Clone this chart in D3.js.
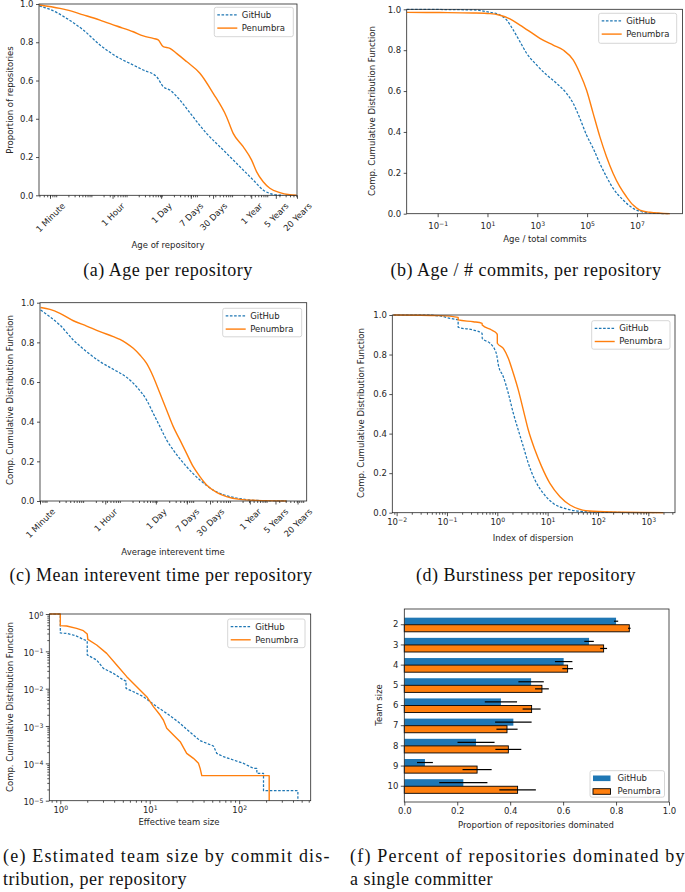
<!DOCTYPE html>
<html><head><meta charset="utf-8">
<script src="https://cdn.jsdelivr.net/npm/d3@7"></script>
<style>body{margin:0;background:#fff}svg{display:block}</style>
</head><body>
<svg id="chart" width="685" height="892"></svg>
<script>
// ---------------- DATA ----------------
const propTicks = [0, 0.2, 0.4, 0.6, 0.8, 1.0];
const timeTicks = [60, 3600, 86400, 604800, 2592000, 31536000, 157680000, 630720000];
const timeTickLabels = ["1 Minute", "1 Hour", "1 Day", "7 Days", "30 Days", "1 Year", "5 Years", "20 Years"];
const seriesNames = ["GitHub", "Penumbra"];

// (a) age of repository (seconds) vs proportion of repositories
const ageGithubX = [29.8, 59.9, 178, 530, 1578, 4694, 13960, 26850, 64270, 99300, 153800, 295800, 634000, 1.69e6, 5.03e6, 1.496e7, 3.58e7, 6.89e7, 1.325e8, 2.55e8];
const ageGithubY = [0.99, 0.972, 0.925, 0.864, 0.786, 0.725, 0.681, 0.655, 0.620, 0.568, 0.55, 0.498, 0.42, 0.324, 0.237, 0.15, 0.08, 0.028, 0.005, 0];
const agePenumbraX = [29.8, 115, 178, 530, 1578, 4694, 13960, 26850, 51640, 71620, 99300, 153800, 237700, 457000, 1.094e6, 2.618e6, 6.25e6, 9.68e6, 1.862e7, 3.21e7, 4.46e7, 6.89e7, 1.066e8, 2.05e8, 3.94e8, 6.1e8];
const agePenumbraY = [0.995, 0.977, 0.969, 0.943, 0.916, 0.885, 0.855, 0.833, 0.82, 0.812, 0.777, 0.768, 0.742, 0.699, 0.638, 0.533, 0.411, 0.324, 0.254, 0.185, 0.124, 0.071, 0.037, 0.014, 0.003, 0];

// (b) age / total commits CCDF
const commitsGithubX = [0.00571, 2.70, 12.6, 31.6, 58.5, 108, 201, 371, 935, 2355, 5929, 14930, 27620, 51170, 94600, 175000, 324300, 600000, 1.11e6, 2.80e6, 7.05e6, 1.77e7, 6.07e7, 2.08e8];
const commitsGithubY = [1.0, 0.997, 0.985, 0.972, 0.948, 0.899, 0.842, 0.785, 0.728, 0.679, 0.638, 0.589, 0.540, 0.467, 0.385, 0.320, 0.246, 0.181, 0.124, 0.067, 0.026, 0.008, 0.002, 0];
const commitsPenumbraX = [0.00571, 0.124, 2.70, 12.6, 31.6, 79.6, 201, 505, 1271, 4355, 10960, 27620, 51170, 94600, 175000, 324300, 600000, 1.11e6, 2.056e6, 3.80e6, 7.05e6, 1.30e7, 3.28e7, 2.08e8];
const commitsPenumbraY = [0.985, 0.984, 0.982, 0.979, 0.971, 0.953, 0.923, 0.891, 0.858, 0.825, 0.801, 0.752, 0.687, 0.605, 0.491, 0.377, 0.279, 0.197, 0.132, 0.083, 0.042, 0.018, 0.007, 0];

// (c) mean interevent time (seconds) CCDF
const interGithubX = [62.5, 112, 210, 486, 1122, 2588, 5972, 13800, 25820, 48400, 73500, 111700, 169500, 257600, 594300, 1.374e6, 3.17e6, 7.31e6, 1.69e7, 4.81e7, 3.16e8];
const interGithubY = [0.963, 0.929, 0.887, 0.812, 0.753, 0.703, 0.664, 0.624, 0.576, 0.509, 0.442, 0.375, 0.308, 0.257, 0.173, 0.106, 0.055, 0.027, 0.012, 0.003, 0];
const interPenumbraX = [62.5, 112, 210, 486, 1122, 2588, 5972, 9078, 13800, 20950, 31840, 48400, 73500, 111700, 169500, 257600, 391600, 594300, 903600, 1.374e6, 2.085e6, 3.91e6, 7.31e6, 1.69e7, 4.81e7, 3.16e8];
const interPenumbraY = [0.976, 0.966, 0.946, 0.909, 0.882, 0.854, 0.829, 0.815, 0.795, 0.770, 0.736, 0.694, 0.627, 0.543, 0.459, 0.375, 0.308, 0.240, 0.173, 0.123, 0.081, 0.044, 0.022, 0.008, 0.003, 0];

// (d) index of dispersion CCDF
const dispGithubX = [0.0086, 0.0339, 0.0726, 0.1148, 0.1667, 0.1668, 0.333, 0.5, 0.501, 0.715, 0.899, 0.97, 1.05, 1.316, 1.654, 2.08, 2.61, 3.29, 4.13, 5.60, 8.20, 12.97, 23.8, 43.9, 148.6, 1465];
const dispGithubY = [1.0, 1.0, 0.995, 0.983, 0.975, 0.938, 0.924, 0.907, 0.882, 0.857, 0.823, 0.80, 0.747, 0.688, 0.604, 0.503, 0.418, 0.334, 0.250, 0.165, 0.098, 0.047, 0.019, 0.007, 0.002, 0];
const dispPenumbraX = [0.0086, 0.0726, 0.1667, 0.1668, 0.333, 0.5, 0.501, 0.771, 0.97, 1.0, 1.001, 1.316, 1.654, 2.08, 2.61, 3.29, 4.13, 5.60, 7.60, 11.1, 17.6, 27.8, 43.9, 80.7, 318, 1986];
const dispPenumbraY = [1.0, 0.997, 0.988, 0.975, 0.966, 0.958, 0.949, 0.924, 0.907, 0.90, 0.857, 0.831, 0.781, 0.705, 0.621, 0.519, 0.418, 0.317, 0.233, 0.148, 0.081, 0.039, 0.017, 0.007, 0.002, 0];

// (e) effective team size CCDF (log-log)
const teamGithubX = [0.75, 1, 1, 1.2, 1.5, 1.8, 2, 2, 2.55, 3.03, 3.92, 5.07, 5.43, 5.43, 6.56, 8.49, 10.09, 11.97, 15.49, 21.86, 25.9, 30.8, 36.6, 43.5, 51.6, 56.2, 66.8, 86.4, 112, 144.7, 157.7, 157.7, 187.2, 187.2, 453.6, 453.6];
const teamGithubY = [1, 1, 0.31, 0.30, 0.26, 0.21, 0.19, 0.08, 0.0586, 0.035, 0.0257, 0.0171, 0.016, 0.0102, 0.0083, 0.0061, 0.00449, 0.0033, 0.00218, 0.00118, 0.000814, 0.000574, 0.000405, 0.000343, 0.000291, 0.000185, 0.000151, 0.000123, 0.0001, 7.35e-5, 7.35e-5, 5.4e-5, 5.4e-5, 1.85e-5, 1.85e-5, 1e-5];
const teamPenumbraX = [0.75, 1, 1, 1.177, 1.52, 1.81, 2, 2.03, 2.55, 3.30, 4.27, 5.53, 7.15, 9.25, 11.0, 13.05, 14.2, 15.5, 18.4, 21.9, 25.9, 30.8, 35.1, 36.6, 38.2, 216.7, 216.7];
const teamPenumbraY = [1, 1, 0.487, 0.477, 0.413, 0.358, 0.291, 0.21, 0.148, 0.0883, 0.043, 0.021, 0.0113, 0.0061, 0.0033, 0.00197, 0.00145, 0.000866, 0.000574, 0.00038, 0.000185, 0.000136, 0.0001, 7.35e-5, 4.68e-5, 4.68e-5, 1e-5];

// (f) proportion of repositories dominated by a single committer
const teamSizes = [2, 3, 4, 5, 6, 7, 8, 9, 10];
const githubDominated = [0.80, 0.698, 0.602, 0.479, 0.365, 0.412, 0.271, 0.078, 0.223];
const githubDominatedErr = [0.008, 0.018, 0.033, 0.048, 0.061, 0.069, 0.070, 0.030, 0.091];
const penumbraDominated = [0.85, 0.753, 0.617, 0.52, 0.481, 0.388, 0.393, 0.275, 0.428];
const penumbraDominatedErr = [0.005, 0.013, 0.020, 0.026, 0.034, 0.040, 0.049, 0.055, 0.069];

const captions = [
  {id: "a", lines: ["(a) Age per repository"]},
  {id: "b", lines: ["(b) Age / # commits, per repository"]},
  {id: "c", lines: ["(c) Mean interevent time per repository"]},
  {id: "d", lines: ["(d) Burstiness per repository"]},
  {id: "e", lines: ["(e) Estimated team size by commit dis-", "tribution, per repository"]},
  {id: "f", lines: ["(f) Percent of repositories dominated by", "a single committer"]}
];

// ---------------- STYLE ----------------
const FONT = '"DejaVu Sans", sans-serif';
const SERIF = '"Liberation Serif", "DejaVu Serif", serif';
const FS = 8.5;
const INK = "#262626";
const BLUE = "#1f77b4", ORANGE = "#ff7f0e";
const DASH = "2.6,1.6";

const svg = d3.select("#chart");
const defs = svg.append("defs");

function styleAxis(ax) {
  ax.select(".domain").remove();
  ax.selectAll(".tick line").attr("stroke", INK).attr("stroke-width", 0.8);
  ax.selectAll(".tick text").attr("fill", INK).attr("font-size", FS).attr("font-family", FONT);
}
function frame(g, b) {
  g.append("rect").attr("x", b.left).attr("y", b.top)
    .attr("width", b.right - b.left).attr("height", b.bottom - b.top)
    .attr("fill", "none").attr("stroke", INK).attr("stroke-width", 0.8);
}
function clipFor(id, b) {
  defs.append("clipPath").attr("id", id).append("rect")
    .attr("x", b.left).attr("y", b.top - 1).attr("width", b.right - b.left).attr("height", b.bottom - b.top + 2);
  return `url(#${id})`;
}
function logMinors(dom) {
  const out = [];
  const lo = Math.floor(Math.log10(dom[0])), hi = Math.ceil(Math.log10(dom[1]));
  for (let e = lo; e <= hi; e++) for (let k = 2; k <= 9; k++) {
    const v = k * Math.pow(10, e);
    if (v >= dom[0] && v <= dom[1]) out.push(v);
  }
  return out;
}
function decades(dom, step, offset) {
  const out = [];
  const lo = Math.ceil(Math.log10(dom[0])), hi = Math.floor(Math.log10(dom[1]));
  for (let e = lo; e <= hi; e++) if (((e - offset) % step + step) % step === 0) out.push(Math.pow(10, e));
  return out;
}
function expStr(d) {
  const e = Math.round(Math.log10(d));
  return e < 0 ? "\u2212" + (-e) : String(e);
}
function supLabels(ax) {
  ax.selectAll(".tick text").each(function (d) {
    const t = d3.select(this);
    t.text(null);
    t.append("tspan").text("10");
    t.append("tspan").attr("dy", "-0.45em").attr("font-size", "0.72em").text(expStr(d));
  });
}
function drawLine(g, xs, ys, sx, sy, color, dashed, curve) {
  const pts = xs.map((v, i) => [v, ys[i]]);
  const line = d3.line().x(d => sx(d[0])).y(d => sy(d[1])).curve(curve || d3.curveLinear);
  g.append("path").attr("d", line(pts)).attr("fill", "none").attr("stroke", color)
    .attr("stroke-width", dashed ? 1.25 : 1.4)
    .attr("stroke-dasharray", dashed ? DASH : null)
    .attr("stroke-linejoin", "round");
}
function legend(g, x, y, w, h, kind) {
  g.append("rect").attr("x", x).attr("y", y).attr("width", w).attr("height", h).attr("rx", 2)
    .attr("fill", "#fff").attr("fill-opacity", 0.85).attr("stroke", "#cccccc").attr("stroke-width", 0.8);
  seriesNames.forEach((name, i) => {
    const cy = y + 7.6 + i * 13.2;
    const color = i === 0 ? BLUE : ORANGE;
    if (kind === "line") {
      g.append("line").attr("x1", x + 3).attr("x2", x + 23).attr("y1", cy).attr("y2", cy)
        .attr("stroke", color).attr("stroke-width", i === 0 ? 1.25 : 1.4)
        .attr("stroke-dasharray", i === 0 ? DASH : null);
    } else {
      g.append("rect").attr("x", x + 3).attr("y", cy - 2.8).attr("width", 17.5).attr("height", 5.6)
        .attr("fill", color).attr("stroke", i === 0 ? "none" : "#000").attr("stroke-width", 0.9);
    }
    g.append("text").attr("x", x + 27.5).attr("y", cy).attr("dy", "0.35em")
      .attr("font-size", FS).attr("font-family", FONT).attr("fill", INK).text(name);
  });
}
function yLabel(g, x, y, text) {
  g.append("text").attr("transform", `translate(${x},${y}) rotate(-90)`)
    .attr("text-anchor", "middle").attr("dominant-baseline", "central")
    .attr("font-size", FS).attr("font-family", FONT).attr("fill", INK).text(text);
}
function xLabel(g, x, y, text) {
  g.append("text").attr("x", x).attr("y", y).attr("text-anchor", "middle")
    .attr("font-size", FS).attr("font-family", FONT).attr("fill", INK).text(text);
}
function yProp(g, sy, b) {
  const ax = g.append("g").attr("transform", `translate(${b.left},0)`)
    .call(d3.axisLeft(sy).tickValues(propTicks).tickFormat(d3.format(".1f")).tickSize(3).tickPadding(2.5));
  styleAxis(ax);
}
function timeAxis(g, sx, b) {
  const mx = g.append("g").attr("transform", `translate(0,${b.bottom})`)
    .call(d3.axisBottom(sx).tickValues(logMinors(sx.domain())).tickFormat("").tickSize(2));
  styleAxis(mx);
  const ax = g.append("g").attr("transform", `translate(0,${b.bottom})`)
    .call(d3.axisBottom(sx).tickValues(timeTicks).tickFormat((d, i) => timeTickLabels[i]).tickSize(3.5));
  styleAxis(ax);
  ax.selectAll(".tick text").each(function () {
    const t = d3.select(this);
    t.attr("y", null).attr("dy", null).attr("dominant-baseline", "central").attr("text-anchor", "middle");
    const w = this.getComputedTextLength();
    const side = (w + FS) / Math.SQRT2;
    t.attr("transform", `translate(0,${6 + side / 2}) rotate(-45)`);
  });
}
function logXAxis(g, sx, b, majors, baseline, minors) {
  if (minors) {
    const mx = g.append("g").attr("transform", `translate(0,${b.bottom})`)
      .call(d3.axisBottom(sx).tickValues(logMinors(sx.domain())).tickFormat("").tickSize(2));
    styleAxis(mx);
  }
  const ax = g.append("g").attr("transform", `translate(0,${b.bottom})`)
    .call(d3.axisBottom(sx).tickValues(majors).tickSize(3.5));
  styleAxis(ax);
  ax.selectAll(".tick text").attr("y", baseline).attr("dy", null);
  supLabels(ax);
}

// ---------------- PANELS ----------------
// (a)
(function () {
  const b = {left: 39, right: 297, top: 4, bottom: 195.3};
  const g = svg.append("g");
  const sx = d3.scaleLog().domain([29.2, 6.31e8]).range([b.left, b.right]);
  const sy = d3.scaleLinear().domain([0, 1]).range([b.bottom, b.top]);
  const lg = g.append("g").attr("clip-path", clipFor("ca", b));
  drawLine(lg, ageGithubX, ageGithubY, sx, sy, BLUE, true, d3.curveMonotoneX);
  drawLine(lg, agePenumbraX, agePenumbraY, sx, sy, ORANGE, false, d3.curveMonotoneX);
  frame(g, b);
  yProp(g, sy, b);
  timeAxis(g, sx, b);
  legend(g, 214.3, 7.3, 79, 29.4, "line");
  yLabel(g, 9.5, 100, "Proportion of repositories");
  xLabel(g, 168, 248, "Age of repository");
})();

// (b)
(function () {
  const b = {left: 406.7, right: 682.5, top: 9.3, bottom: 213.7};
  const g = svg.append("g");
  const sx = d3.scaleLog().domain([0.00571, 6.76e8]).range([b.left, b.right]);
  const sy = d3.scaleLinear().domain([0, 1]).range([b.bottom, b.top]);
  const lg = g.append("g").attr("clip-path", clipFor("cb", b));
  drawLine(lg, commitsGithubX, commitsGithubY, sx, sy, BLUE, true, d3.curveMonotoneX);
  drawLine(lg, commitsPenumbraX, commitsPenumbraY, sx, sy, ORANGE, false, d3.curveMonotoneX);
  frame(g, b);
  yProp(g, sy, b);
  logXAxis(g, sx, b, decades(sx.domain(), 2, 1), 15.5, false);
  legend(g, 598.7, 13.3, 78, 30, "line");
  yLabel(g, 372.3, 111, "Comp. Cumulative Distribution Function");
  xLabel(g, 545, 242, "Age / total commits");
})();

// (c)
(function () {
  const b = {left: 40, right: 306.7, top: 302.7, bottom: 501};
  const g = svg.append("g");
  const sx = d3.scaleLog().domain([60, 1.12e9]).range([b.left, b.right]);
  const sy = d3.scaleLinear().domain([0, 1]).range([b.bottom, b.top]);
  const lg = g.append("g").attr("clip-path", clipFor("cc", b));
  drawLine(lg, interGithubX, interGithubY, sx, sy, BLUE, true, d3.curveMonotoneX);
  drawLine(lg, interPenumbraX, interPenumbraY, sx, sy, ORANGE, false, d3.curveMonotoneX);
  frame(g, b);
  yProp(g, sy, b);
  timeAxis(g, sx, b);
  legend(g, 222.7, 308.3, 79, 28.5, "line");
  yLabel(g, 9.5, 400, "Comp. Cumulative Distribution Function");
  xLabel(g, 173, 555, "Average interevent time");
})();

// (d)
(function () {
  const b = {left: 392.3, right: 675, top: 315, bottom: 512.7};
  const g = svg.append("g");
  const sx = d3.scaleLog().domain([0.0082, 3388]).range([b.left, b.right]);
  const sy = d3.scaleLinear().domain([0, 1]).range([b.bottom, b.top]);
  const lg = g.append("g").attr("clip-path", clipFor("cd", b));
  drawLine(lg, dispGithubX, dispGithubY, sx, sy, BLUE, true, d3.curveMonotoneX);
  drawLine(lg, dispPenumbraX, dispPenumbraY, sx, sy, ORANGE, false, d3.curveMonotoneX);
  frame(g, b);
  yProp(g, sy, b);
  logXAxis(g, sx, b, decades(sx.domain(), 1, 0), 12.3, true);
  legend(g, 591.7, 320.7, 78.3, 28.5, "line");
  yLabel(g, 360.5, 413, "Comp. Cumulative Distribution Function");
  xLabel(g, 533, 540.5, "Index of dispersion");
})();

// (e)
(function () {
  const b = {left: 49.3, right: 310.7, top: 614, bottom: 800.7};
  const g = svg.append("g");
  const sx = d3.scaleLog().domain([0.753, 631]).range([b.left, b.right]);
  const sy = d3.scaleLog().domain([1e-5, 1]).range([b.bottom, b.top]);
  const lg = g.append("g").attr("clip-path", clipFor("ce", b));
  drawLine(lg, teamGithubX, teamGithubY, sx, sy, BLUE, true);
  drawLine(lg, teamPenumbraX, teamPenumbraY, sx, sy, ORANGE, false);
  frame(g, b);
  const my = g.append("g").attr("transform", `translate(${b.left},0)`)
    .call(d3.axisLeft(sy).tickValues(logMinors(sy.domain())).tickFormat("").tickSize(2));
  styleAxis(my);
  const ay = g.append("g").attr("transform", `translate(${b.left},0)`)
    .call(d3.axisLeft(sy).tickValues(decades(sy.domain(), 1, 0)).tickSize(3.5).tickPadding(2.5));
  styleAxis(ay);
  ay.selectAll(".tick text").attr("dy", "0.5em");
  supLabels(ay);
  logXAxis(g, sx, b, decades(sx.domain(), 1, 0), 12.3, true);
  legend(g, 227.7, 619, 77.3, 28.7, "line");
  yLabel(g, 9.5, 707, "Comp. Cumulative Distribution Function");
  xLabel(g, 179, 825, "Effective team size");
})();

// (f)
(function () {
  const b = {left: 404.3, right: 669, top: 609, bottom: 802};
  const g = svg.append("g");
  const sx = d3.scaleLinear().domain([0, 1]).range([b.left, b.right]);
  const sy = d3.scaleBand().domain(teamSizes).range([b.top, b.bottom]).paddingInner(0.3).paddingOuter(0.43);
  const half = sy.bandwidth() / 2;
  teamSizes.forEach((t, i) => {
    const y0 = sy(t);
    g.append("rect").attr("x", sx(0)).attr("y", y0).attr("width", sx(githubDominated[i]) - sx(0)).attr("height", half)
      .attr("fill", BLUE);
    g.append("rect").attr("x", sx(0)).attr("y", y0 + half).attr("width", sx(penumbraDominated[i]) - sx(0)).attr("height", half)
      .attr("fill", ORANGE).attr("stroke", "#000").attr("stroke-width", 0.9);
    g.append("line").attr("x1", sx(githubDominated[i] - githubDominatedErr[i])).attr("x2", sx(githubDominated[i] + githubDominatedErr[i]))
      .attr("y1", y0 + half / 2).attr("y2", y0 + half / 2).attr("stroke", "#000").attr("stroke-width", 1.2);
    g.append("line").attr("x1", sx(penumbraDominated[i] - penumbraDominatedErr[i])).attr("x2", sx(penumbraDominated[i] + penumbraDominatedErr[i]))
      .attr("y1", y0 + half * 1.5).attr("y2", y0 + half * 1.5).attr("stroke", "#000").attr("stroke-width", 1.2);
  });
  frame(g, b);
  const ax = g.append("g").attr("transform", `translate(0,${b.bottom})`)
    .call(d3.axisBottom(sx).tickValues(propTicks).tickFormat(d3.format(".1f")).tickSize(3.5));
  styleAxis(ax);
  ax.selectAll(".tick text").attr("y", 12).attr("dy", null);
  const ay = g.append("g").attr("transform", `translate(${b.left},0)`)
    .call(d3.axisLeft(sy).tickSize(3.5).tickPadding(2.5));
  styleAxis(ay);
  legend(g, 590, 770.7, 74.5, 26.5, "patch");
  yLabel(g, 379, 705, "Team size");
  xLabel(g, 536, 827.5, "Proportion of repositories dominated");
})();

// ---------------- CAPTIONS ----------------
// single-line captions are centred; two-line captions are justified within their column
const capPos = {
  a: {cx: 168, y: 276, w: 0}, b: {cx: 526, y: 276, w: 0},
  c: {cx: 161, y: 581, w: 0}, d: {cx: 526, y: 581, w: 0},
  e: {x: 3, y: 862, w: 327}, f: {x: 350, y: 862, w: 335}
};
captions.forEach(c => {
  const p = capPos[c.id];
  c.lines.forEach((line, i) => {
    const t = svg.append("text").attr("y", p.y + i * 23)
      .attr("font-family", SERIF).attr("font-size", 18).attr("letter-spacing", 0.5)
      .attr("fill", "#111").text(line);
    if (c.lines.length === 1) {
      t.attr("x", p.cx).attr("text-anchor", "middle");
    } else {
      t.attr("x", p.x);
      if (i < c.lines.length - 1) t.attr("textLength", p.w).attr("lengthAdjust", "spacing");
    }
  });
});
</script>
</body></html>
